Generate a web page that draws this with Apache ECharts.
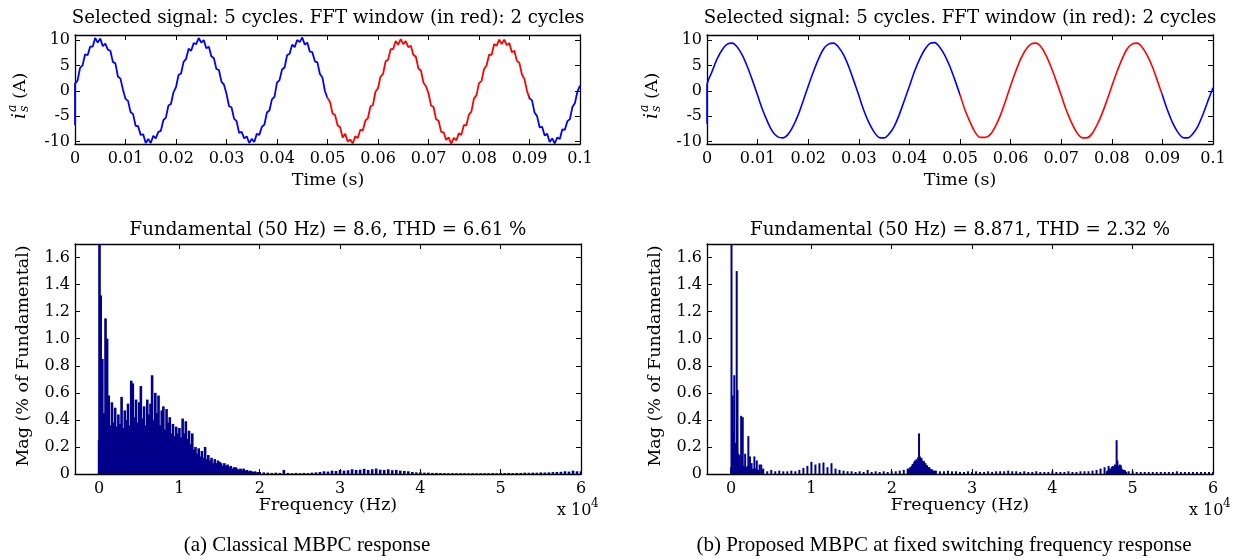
<!DOCTYPE html>
<html><head><meta charset="utf-8">
<script src="https://cdn.jsdelivr.net/npm/echarts@6/dist/echarts.min.js"></script>
<style>html,body{margin:0;padding:0;background:#fff}#c{width:1240px;height:560px}</style>
</head><body><div id="c"></div><script>
// ---------- DATA ----------
// time-domain signals (A), sampled every signalStep seconds from t = 0
const signalStepA = 0.0005;
const startSampleA = -6.8;          // first sample at t=0 (start transient)
const currentA = [
  1.4,2.0,4.5,5.0,7.2,7.0,8.7,8.7,10.4,9.5,10.3,8.8,9.3,8.1,7.9,5.7,5.4,2.8,2.4,0.2,-1.6,-2.0,-4.2,-4.6,-6.9,-7.0,-8.7,-8.6,-10.3,-9.5,-10.3,-8.9,-9.4,-8.1,-7.9,-5.8,-5.3,-2.9,-2.6,-0.3,
  0.7,3.1,3.4,5.7,6.3,8.3,7.9,9.4,9.2,10.4,9.5,10.0,8.4,8.7,6.8,6.4,4.3,4.1,1.8,1.2,-0.6,-3.0,-3.3,-5.5,-6.0,-8.3,-8.1,-9.4,-9.0,-10.3,-9.5,-10.1,-8.5,-8.7,-7.1,-6.7,-4.3,-3.9,-1.7,-1.2,
  1.6,2.1,4.2,4.6,7.0,7.3,9.1,8.6,10.0,9.6,10.5,9.1,9.5,7.7,7.6,5.8,5.6,3.3,2.6,-0.1,-1.4,-2.2,-4.5,-4.8,-6.8,-7.2,-9.2,-8.5,-10.0,-9.6,-10.4,-9.0,-9.3,-7.7,-7.8,-5.9,-5.4,-3.1,-2.8,-0.2,
  0.5,2.8,3.3,5.8,6.1,8.2,8.2,9.8,9.1,10.2,9.2,9.8,8.6,8.9,7.1,6.7,4.4,4.0,1.6,0.9,-0.5,-2.9,-3.2,-5.6,-5.9,-8.1,-8.2,-9.7,-9.2,-10.5,-9.3,-9.8,-8.4,-8.7,-6.8,-6.8,-4.7,-4.1,-1.5,-0.9,
  1.5,1.9,4.3,5.0,7.1,7.1,9.2,8.9,10.1,9.2,10.1,9.0,9.4,7.6,7.9,5.9,5.5,3.2,2.3,0.0,-1.5,-1.9,-4.3,-5.0,-7.2,-7.1,-8.8,-8.5,-10.1,-9.4,-10.4,-9.2,-9.5,-7.6,-7.7,-6.0,-5.6,-3.2,-2.4,-0.1,
  1.0
];
const signalStepB = 0.001;
const startSampleB = -6.5;
const currentB = [
  1.0,3.8,6.3,8.1,9.2,9.4,8.6,7.0,4.7,2.0,-0.9,-3.8,-6.2,-8.1,-9.1,-9.3,-8.6,-7.0,-4.8,-2.0,
  0.9,3.7,6.2,8.2,9.2,9.4,8.6,7.1,4.8,2.0,-0.9,-3.9,-6.3,-8.1,-9.2,-9.3,-8.5,-7.0,-4.7,-1.9,
  0.9,3.8,6.2,8.1,9.3,9.5,8.6,7.0,4.8,2.1,-0.8,-3.8,-6.2,-8.2,-9.2,-9.2,-8.6,-7.0,-4.8,-2.0,
  1.0,3.8,6.3,8.1,9.2,9.4,8.7,7.0,4.7,2.0,-0.9,-3.8,-6.2,-8.1,-9.2,-9.3,-8.6,-6.9,-4.7,-2.0,
  0.9,3.7,6.2,8.2,9.2,9.4,8.6,7.0,4.8,2.0,-0.9,-3.8,-6.3,-8.1,-9.2,-9.3,-8.5,-7.0,-4.7,-2.0,
  0.6
];
const fftWindow = [0.05, 0.09];   // seconds, drawn in red

// spectra (% of fundamental)
const fundamentalHz = 50, fundamentalPct = 100;
// (a) classical: 0..19800 Hz every 200 Hz
const specAStep = 200;
const specALow = [
  0.25,1.32,0.85,0.45,1.15,1.0,0.58,0.36,0.53,0.38,
  0.49,0.35,0.44,0.37,0.57,0.34,0.47,0.40,0.52,0.36,
  0.69,0.67,0.42,0.55,0.38,0.53,0.65,0.41,0.50,0.36,
  0.55,0.44,0.52,0.73,0.40,0.60,0.45,0.58,0.36,0.47,
  0.50,0.33,0.48,0.38,0.42,0.30,0.37,0.28,0.35,0.30,
  0.34,0.27,0.41,0.30,0.39,0.26,0.32,0.22,0.30,0.18,
  0.20,0.15,0.19,0.13,0.17,0.12,0.20,0.11,0.14,0.10,
  0.12,0.08,0.11,0.08,0.10,0.09,0.08,0.06,0.08,0.06,
  0.07,0.05,0.06,0.04,0.05,0.05,0.04,0.03,0.04,0.03,
  0.04,0.025,0.03,0.02,0.025,0.02,0.015,0.02,0.012,0.015
];
// (a) tail: 20000..60000 Hz every 500 Hz
const specATailStart = 20000, specATailStep = 500;
const specATail = [
  0.015,0.012,0.01,0.008,0.01,0.008,0.03,0.008,0.006,0.008,
  0.006,0.008,0.007,0.01,0.012,0.015,0.02,0.018,0.025,0.022,
  0.03,0.025,0.028,0.035,0.03,0.032,0.038,0.03,0.035,0.04,
  0.032,0.03,0.035,0.028,0.03,0.025,0.022,0.02,0.015,0.012,
  0.012,0.01,0.01,0.008,0.008,0.007,0.007,0.006,0.006,0.006,
  0.006,0.006,0.005,0.006,0.005,0.006,0.006,0.006,0.007,0.006,
  0.007,0.007,0.008,0.007,0.008,0.008,0.01,0.009,0.01,0.01,
  0.012,0.011,0.012,0.014,0.015,0.016,0.02,0.018,0.025,0.02,
  0.02
];
// (b) proposed: low-frequency lines
const specBLowHz = [0,150,200,250,300,350,400,450,550,600,700,750,800,850,900,1000,1050,1150,1250,1350,1450,1550,1650,1750,1850,1950,2050,2150,2250,2350,2450,2550,2650,2750,2900,3050,3200,3350,3550,3750,3900];
const specBLowMag = [0.05,0.2,0.58,0.18,0.3,0.1,0.73,0.12,0.23,0.1,1.5,0.2,0.62,0.1,0.15,0.08,0.14,0.06,0.43,0.07,0.42,0.06,0.05,0.15,0.05,0.04,0.06,0.28,0.05,0.13,0.04,0.08,0.03,0.04,0.13,0.04,0.1,0.03,0.07,0.07,0.03];
// (b) floor: 4000..60000 Hz every 500 Hz
const specBFloorStart = 4000, specBFloorStep = 500;
const specBFloor = [
  0.04,0.02,0.03,0.02,0.025,0.02,0.02,0.025,0.02,0.03,
  0.045,0.06,0.09,0.07,0.08,0.085,0.05,0.08,0.04,0.03,
  0.025,0.02,0.02,0.015,0.02,0.015,0.03,0.015,0.02,0.015,
  0.02,0.015,0.02,0.02,0.025,0.03,0.04,0.05,0.09,0.11,
  0.09,0.05,0.03,0.025,0.02,0.02,0.025,0.02,0.02,0.015,
  0.015,0.02,0.015,0.02,0.015,0.015,0.02,0.015,0.02,0.02,
  0.02,0.025,0.02,0.02,0.015,0.02,0.015,0.015,0.02,0.015,
  0.015,0.015,0.02,0.015,0.015,0.015,0.02,0.015,0.015,0.02,
  0.02,0.02,0.025,0.03,0.04,0.05,0.06,0.05,0.06,0.06,
  0.03,0.02,0.02,0.015,0.015,0.015,0.015,0.015,0.015,0.015,
  0.015,0.015,0.015,0.02,0.015,0.015,0.015,0.015,0.015,0.015,
  0.015,0.015,0.015
];
// (b) sideband clusters, every 100 Hz
const specBCluster1Start = 22000;
const specBCluster1 = [0.03,0.04,0.035,0.05,0.045,0.06,0.075,0.065,0.09,0.1,0.085,0.11,0.1,0.125,0.3,0.13,0.11,0.12,0.1,0.09,0.095,0.07,0.08,0.06,0.065,0.05,0.045,0.05,0.035,0.03,0.035,0.025,0.02,0.025,0.02];
const specBCluster2Start = 46800;
const specBCluster2 = [0.02,0.025,0.03,0.03,0.04,0.035,0.05,0.06,0.045,0.055,0.07,0.06,0.25,0.1,0.06,0.05,0.07,0.065,0.04,0.035,0.03,0.025,0.02,0.02,0.015];

// tick labels
const timeTicks = [0,0.01,0.02,0.03,0.04,0.05,0.06,0.07,0.08,0.09,0.1];
const currentTicks = [-10,-5,0,5,10];
const freqTicks = [0,10000,20000,30000,40000,50000,60000];
const magTicks = [0,0.2,0.4,0.6,0.8,1.0,1.2,1.4,1.6];

const titleTop = 'Selected signal: 5 cycles. FFT window (in red): 2 cycles';
const titleBottomA = 'Fundamental (50 Hz) = 8.6, THD = 6.61 %';
const titleBottomB = 'Fundamental (50 Hz) = 8.871, THD = 2.32 %';
const captionA = '(a) Classical MBPC response';
const captionB = '(b) Proposed MBPC at fixed switching frequency response';

// ---------- BUILD ----------
function timeSeries(start, vals, step){
  const out=[[0,start]];
  vals.forEach((v,i)=>out.push([+(i*step).toFixed(5), v]));
  return out;
}
function stepSeries(start, step, vals){ return vals.map((v,i)=>[start+i*step, v]); }
const specA = [[fundamentalHz,fundamentalPct]]
  .concat(stepSeries(0,specAStep,specALow))
  .concat(stepSeries(specATailStart,specATailStep,specATail));
const specB = [[fundamentalHz,fundamentalPct]]
  .concat(specBLowHz.map((f,i)=>[f,specBLowMag[i]]))
  .concat(stepSeries(specBFloorStart,specBFloorStep,specBFloor))
  .concat(stepSeries(specBCluster1Start,100,specBCluster1))
  .concat(stepSeries(specBCluster2Start,100,specBCluster2));

const SERIF = 'DejaVu Serif';
const FT = 16;     // tick labels
const FN = 17.5;   // axis names
const FH = 18.2;   // titles
const black = '#000';
const grids = [
  {left:75, top:35, width:505, height:109},
  {left:707, top:35, width:506, height:109},
  {left:75, top:244, width:506, height:230},
  {left:707, top:244, width:506, height:230}
];
function xAx(g, top){
  const isTime = g<2;
  return {
    type:'value', gridIndex:g, position: top?'top':'bottom',
    min: isTime?0:-3000, max: isTime?0.1:60000,
    axisLine:{show:true,onZero:false,lineStyle:{color:black,width:1.3}},
    axisTick:{show:true,inside:true,length:5,lineStyle:{color:black},customValues: isTime?timeTicks:freqTicks},
    axisLabel:{show:!top,color:black,fontFamily:SERIF,fontSize:FT,margin:7,
      customValues: isTime?timeTicks:freqTicks,
      formatter: isTime ? (v=>String(+v.toFixed(2))) : (v=>String(v/10000))},
    splitLine:{show:false}
  };
}
function yAx(g, right){
  const isTime = g<2;
  return {
    type:'value', gridIndex:g, position: right?'right':'left',
    min: isTime?-10.5:0, max: isTime?11:1.7,
    axisLine:{show:true,onZero:false,lineStyle:{color:black,width:1.3}},
    axisTick:{show:true,inside:true,length:5,lineStyle:{color:black},customValues: isTime?currentTicks:magTicks},
    axisLabel:{show:!right,color:black,fontFamily:SERIF,fontSize:FT,margin:5,
      customValues: isTime?currentTicks:magTicks,
      formatter: isTime ? (v=>String(v)) : (v=> v===0?'0':v.toFixed(1))},
    splitLine:{show:false}
  };
}
const xAxis=[], yAxis=[];
for(let g=0;g<4;g++){ xAxis.push(xAx(g,false)); yAxis.push(yAx(g,false)); }
for(let g=0;g<4;g++){ xAxis.push(xAx(g,true)); yAxis.push(yAx(g,true)); }

function fnt(sz, it){ return (it?'italic ':'')+sz+'px "'+SERIF+'"'; }
function txt(x,y,text,sz,opt){
  return {type:'text',x:x,y:y,silent:true,style:Object.assign({text:text,fill:black,
    font:fnt(sz),textAlign:'center',textVerticalAlign:'middle'},opt||{})};
}
function isLabel(cx,cy){
  return {type:'group',x:cx,y:cy,rotation:Math.PI/2,children:[
    {type:'text',x:-29,y:0,style:{text:'i',fill:black,font:fnt(FN+1,true),textAlign:'left',textVerticalAlign:'middle'}},
    {type:'text',x:-22,y:-7,style:{text:'a',fill:black,font:fnt(12.5,true),textAlign:'left',textVerticalAlign:'middle'}},
    {type:'text',x:-22,y:5,style:{text:'s',fill:black,font:fnt(12.5,true),textAlign:'left',textVerticalAlign:'middle'}},
    {type:'text',x:-9,y:0,style:{text:'(A)',fill:black,font:fnt(FN),textAlign:'left',textVerticalAlign:'middle'}}
  ]};
}
function rotTxt(cx,cy,text){
  return {type:'text',x:cx,y:cy,rotation:Math.PI/2,style:{text:text,fill:black,font:fnt(FN),textAlign:'center',textVerticalAlign:'middle'}};
}
function x104(x,y){
  return {type:'group',x:x,y:y,children:[
    {type:'text',x:0,y:0,style:{text:'x 10',fill:black,font:fnt(FT),textAlign:'left',textVerticalAlign:'middle'}},
    {type:'text',x:34,y:-7,style:{text:'4',fill:black,font:fnt(12),textAlign:'left',textVerticalAlign:'middle'}}
  ]};
}
const CAP = '21px "Liberation Serif"';
const graphic = [
  txt(328,18,titleTop,FH), txt(960,18,titleTop,FH),
  txt(328,230,titleBottomA,FH), txt(960,230,titleBottomB,FH),
  txt(328,180,'Time (s)',FN), txt(960,180,'Time (s)',FN),
  txt(328,505,'Frequency (Hz)',FN), txt(960,505,'Frequency (Hz)',FN),
  x104(557,511), x104(1189,511),
  isLabel(20,90), isLabel(652,90),
  rotTxt(23,356,'Mag (% of Fundamental)'), rotTxt(655,356,'Mag (% of Fundamental)'),
  txt(307,545,captionA,21,{font:CAP}), txt(944,545,captionB,21,{font:CAP})
];

function vmap(si){
  return {type:'piecewise',show:false,dimension:0,seriesIndex:si,pieces:[
    {lt:fftWindow[0],color:'#0000ff'},
    {gte:fftWindow[0],lte:fftWindow[1],color:'#ff0000'},
    {gt:fftWindow[1],color:'#0000ff'}]};
}
const series = [
  {type:'line',xAxisIndex:0,yAxisIndex:0,data:timeSeries(startSampleA,currentA,signalStepA),showSymbol:false,lineStyle:{width:1.8},clip:true},
  {type:'line',xAxisIndex:1,yAxisIndex:1,data:timeSeries(startSampleB,currentB,signalStepB),showSymbol:false,smooth:0.3,lineStyle:{width:1.6},clip:true},
  {type:'bar',xAxisIndex:2,yAxisIndex:2,data:specA,barWidth:2.6,itemStyle:{color:'#00008b'},clip:true},
  {type:'bar',xAxisIndex:3,yAxisIndex:3,data:specB,barWidth:2,itemStyle:{color:'#00008b'},clip:true}
];
const chart = echarts.init(document.getElementById('c'),null,{renderer:'canvas'});
chart.setOption({animation:false,backgroundColor:'#fff',grid:grids,xAxis:xAxis,yAxis:yAxis,
  visualMap:[vmap(0),vmap(1)],series:series,graphic:graphic});
</script></body></html>
